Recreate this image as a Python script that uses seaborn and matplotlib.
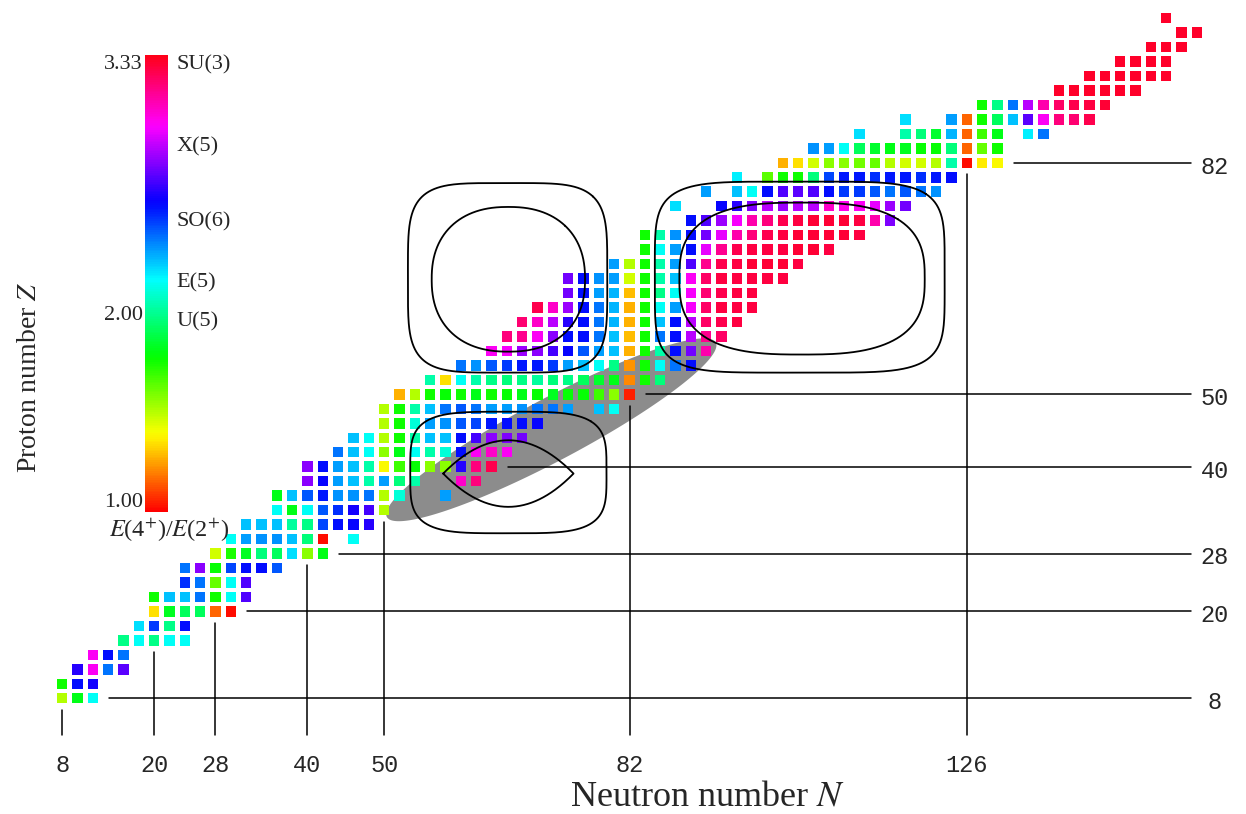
import numpy as np
import pandas as pd
import seaborn as sns
import matplotlib.pyplot as plt
from matplotlib import cm, colors

# E(4+)/E(2+) of even-even nuclei, one row per proton number Z.
# A row starts at neutron number first_n and steps by 2 neutrons; None = no value
proton_z = [8, 10, 12, 14, 16, 18, 20, 22, 24, 26, 28, 30, 32, 34, 36, 38, 40, 42,
            44, 46, 48, 50, 52, 54, 56, 58, 60, 62, 64, 66, 68, 70, 72, 74, 76, 78,
            80, 82, 84, 86, 88, 90, 92, 94, 96, 98, 100, 102]
first_n = [8, 8, 10, 12, 16, 18, 20, 20, 24, 24, 28, 30, 32, 36, 36, 40, 40, 44,
           46, 50, 50, 52, 56, 60, 64, 66, 68, 70, 74, 74, 80, 84, 84, 90, 88, 92,
           96, 102, 106, 112, 118, 128, 138, 142, 146, 150, 154, 152]
ratio_rows = [
    [1.51, 1.82, 2.17],
    [1.77, 2.56, 2.61],
    [2.63, 2.98, 2.40, 2.72],
    [2.98, 2.56, 2.40],
    [2.00, 2.17, 2.00, 2.17, 2.17],
    [2.23, 2.49, 2.00, 2.56],
    [1.35, 1.84, 1.93, 1.93, 1.16, 1.02],
    [1.77, 2.28, 2.28, 2.40, 1.77, 2.17, 2.70],
    [2.51, 2.40, 1.63, 2.17, 2.70],
    [2.40, 2.79, 1.79, 2.47, 2.56, 2.56, 2.44],
    [1.47, 1.75, 1.84, 1.98, 1.93, 2.23, 1.58, 1.82],
    [2.17, 2.33, 2.35, 2.35, 2.28, 1.98, 1.02, None, 2.17],
    [2.28, 2.28, 2.28, 2.03, 2.00, 2.47, 2.56, 2.58, 2.63],
    [2.17, 1.82, 2.17, 2.44, 2.51, 2.61, 2.68, 1.51],
    [1.82, 2.28, 2.44, 2.54, 2.35, 2.35, 2.40, 1.51, 2.12, None, None, 2.33],
    [2.79, 2.58, 2.33, 2.28, 2.05, 2.33, 1.98, 2.05, None, None, 3.05, 3.17],
    [2.79, 2.56, 2.33, 2.28, 2.05, 1.40, 1.70, 1.79, 1.58, 1.58, 2.63, 3.17, 3.24],
    [2.40, 2.28, 2.17, 1.58, 1.82, 2.17, 2.05, 2.12, 2.56, 2.98, 3.05, 2.98],
    [2.28, 2.17, 1.51, 1.77, 2.05, 2.28, 2.28, 2.56, 2.68, 2.79, 2.77, 2.75],
    [1.51, 1.77, 2.12, 2.33, 2.35, 2.44, 2.47, 2.54, 2.56, 2.56, 2.58],
    [1.51, 1.77, 2.05, 2.28, 2.40, 2.44, 2.40, 2.33, 2.33, 2.35, 2.40, 2.40, 2.33, None, 2.28, 2.17],
    [1.28, 1.51, 1.77, 1.79, 1.77, 1.82, 1.77, 1.79, 1.82, 1.79, 1.84, 1.79, 1.79, 1.70, 1.58, 1.05],
    [2.05, 1.35, 2.17, 2.05, 2.00, 1.98, 2.00, 2.03, 1.98, 2.00, 1.93, 1.86, 1.82, 1.21, 1.77, 1.98],
    [2.40, 2.35, 2.44, 2.49, 2.54, 2.54, 2.49, 2.33, 2.28, 2.17, 2.00, 1.23, 1.77, 2.17, 2.40, 2.56],
    [2.98, 2.96, 2.82, 2.79, 2.68, 2.58, 2.44, 2.33, 2.28, 1.28, 1.77, 2.05, 2.56, 2.75, 3.10],
    [3.17, 3.14, 2.98, 2.79, 2.56, 2.56, 2.40, 2.28, 1.30, 1.77, 2.40, 2.56, 2.86, 3.14, 3.21],
    [3.19, 3.05, 2.86, 2.63, 2.56, 2.40, 2.30, 1.28, 1.77, 2.28, 2.56, 2.86, 3.21, 3.24, 3.26],
    [3.24, 3.05, 2.82, 2.56, 2.40, 2.30, 1.28, 1.77, 2.17, 2.33, 2.96, 3.21, 3.26, 3.26, 3.26],
    [2.75, 2.56, 2.33, 2.30, 1.30, 1.77, 2.00, 2.17, 2.96, 3.19, 3.24, 3.26, 3.26],
    [2.75, 2.56, 2.35, 2.33, 1.47, 1.77, 2.05, 2.28, 2.98, 3.21, 3.26, 3.26, 3.26, 3.26, 3.26],
    [2.33, 1.51, 1.77, 2.05, 2.33, 2.70, 3.14, 3.24, 3.26, 3.28, 3.28, 3.28, 3.26],
    [1.77, 2.17, 2.33, 2.56, 2.93, 3.14, 3.24, 3.26, 3.26, 3.26, 3.28, 3.28, 3.26],
    [1.77, 2.05, 2.35, 2.56, 2.75, 2.93, 3.10, 3.17, 3.24, 3.26, 3.28, 3.28, 3.28, 3.28, 3.26],
    [2.56, 2.70, 2.82, 2.96, 3.10, 3.17, 3.24, 3.26, 3.28, 3.28, 3.28, 3.26, 3.10, 2.77],
    [2.23, None, None, 2.58, 2.63, 2.77, 2.86, 2.82, 2.86, 2.86, 3.05, 3.00, 2.98, 2.93, 2.82, 2.75],
    [2.33, None, 2.28, 2.17, 2.56, 2.70, 2.72, 2.70, 2.56, 2.49, 2.49, 2.44, 2.40, 2.44, 2.40, 2.35],
    [2.21, None, 1.65, 1.77, 1.77, 1.98, 2.47, 2.54, 2.54, 2.51, 2.54, 2.54, 2.51, 2.54, 2.56],
    [1.28, 1.35, 1.47, 1.58, 1.58, 1.61, 1.63, 1.51, 1.47, 1.47, 1.51, 2.05, 1.02, 1.37, 1.40],
    [2.35, 2.33, 2.17, 1.93, 1.86, 1.82, 1.84, 1.79, 1.79, 1.98, 1.16, 1.63, 1.77],
    [2.23, None, None, 2.05, 1.98, 1.86, 2.30, 1.16, 1.70, 1.82, None, 2.21, 2.40],
    [2.23, None, None, 2.33, 1.16, 1.77, 1.93, 2.28, 2.72, 2.98, 3.17, 3.19, 3.24],
    [1.77, 2.00, 2.40, 2.86, 3.10, 3.21, 3.24, 3.26, 3.28],
    [3.30, 3.30, 3.30, 3.30, 3.30, 3.30],
    [3.30, 3.30, 3.30, 3.30, 3.30, 3.30],
    [3.30, 3.30, 3.30, 3.30],
    [3.30, 3.30, 3.30],
    [3.30, 3.30],
    [3.30],
]

magic_z = [8, 20, 28, 40, 50, 82]
magic_n = [8, 20, 28, 40, 50, 82, 126]

# symmetry limits shown next to the colour bar
limit_names = ['SU(3)', 'X(5)', 'SO(6)', 'E(5)', 'U(5)']
limit_pos = [3.28, 2.86, 2.48, 2.17, 1.97]


def superellipse(cn, cz, an, az, p, k=600):
    t = np.linspace(0.25 * np.pi, 2.25 * np.pi, k)
    c, s = np.cos(t), np.sin(t)
    return (cn + an * np.sign(c) * np.abs(c) ** (2 / p),
            cz + az * np.sign(s) * np.abs(s) ** (2 / p))


def lens(cn, cz, an, az, k=200):
    u = np.linspace(-1, 1, k)
    h = az * (1 - u ** 2)
    x = np.concatenate([cn + an * u, cn + an * u[::-1]])
    y = np.concatenate([cz + h, cz - h[::-1]])
    return x, y


recs = []
for z, n0, row in zip(proton_z, first_n, ratio_rows):
    for i, r in enumerate(row):
        if r is not None:
            recs.append((n0 + 2 * i, z, r))
df = pd.DataFrame(recs, columns=['N', 'Z', 'R'])

sns.set_style('white')
plt.rcParams['font.family'] = ['Liberation Serif', 'DejaVu Serif']
plt.rcParams['mathtext.fontset'] = 'stix'

fig = plt.figure(figsize=(12.46, 8.14), dpi=100)
ax = fig.add_axes([0, 0, 1, 1])
ax.set_xlim(-0.1, 162.4)
ax.set_ylim(-8.0, 104.5)
ax.axis('off')

# grey band under the squares
t = np.linspace(0, 2 * np.pi, 300)
gx = 71.8 + 21.45 * np.cos(t) - 1.9 * np.sin(t)
gy = 45.1 + 12.05 * np.cos(t) + 3.8 * np.sin(t)
ax.fill(gx, gy, color='#8c8c8c', lw=0, zorder=1)

sns.scatterplot(data=df, x='N', y='Z', hue='R', palette='hsv', hue_norm=(1.0, 3.33),
                marker='s', s=57, linewidth=0, legend=False, ax=ax, zorder=2)

# contour outlines
for shape in [superellipse(66.1, 66.1, 13.0, 13.1, 4.5),
              superellipse(66.2, 65.9, 10.0, 10.0, 2.3),
              superellipse(104.2, 66.2, 18.9, 13.2, 5.0),
              superellipse(104.5, 66.0, 16.0, 10.5, 2.8),
              superellipse(66.2, 39.2, 12.8, 8.4, 4.0),
              lens(66.2, 39.05, 8.5, 4.6)]:
    ax.plot(shape[0], shape[1], color='black', lw=1.3, zorder=3)

# magic number lines and labels
mono = 'Liberation Mono'
for m in magic_n:
    zmin = df.loc[df.N == m, 'Z'].min()
    ax.plot([m, m], [2.9, zmin - 1.6], color='black', lw=1.1, zorder=3)
    ax.text(m, -1.3, str(m), ha='center', va='center', family=mono, fontsize=17)
for m in magic_z:
    nmax = df.loc[df.Z == m, 'N'].max()
    ax.plot([nmax + 2.1, 155.2], [m, m], color='black', lw=1.1, zorder=3)
    ax.text(158.3, m - 0.6, str(m), ha='center', va='center', family=mono, fontsize=17)

fig.text(708 / 1246, 1 - 797 / 814, 'Neutron number $N$', ha='center', va='center', fontsize=26)
fig.text(30 / 1246, 1 - 377 / 814, 'Proton number $Z$', ha='center', va='center',
         rotation=90, fontsize=20)

# colour bar
cax = fig.add_axes([145 / 1246, 302 / 814, 23 / 1246, 457 / 814])
cb = fig.colorbar(cm.ScalarMappable(norm=colors.Normalize(1.0, 3.33), cmap='hsv'), cax=cax)
cb.outline.set_visible(False)
cb.set_ticks([])
ytr = cax.get_yaxis_transform()
for v, s in zip(limit_pos, limit_names):
    cax.text(1.35, v, s, transform=ytr, ha='left', va='center', fontsize=16)
cax.text(-0.1, 3.33, '3.33', transform=ytr, ha='right', va='top', fontsize=16)
cax.text(-0.1, 2.00, '2.00', transform=ytr, ha='right', va='center', fontsize=16)
cax.text(-0.1, 1.00, '1.00', transform=ytr, ha='right', va='bottom', fontsize=16)
cax.text(1.04, -0.04, '$E$(4$^{+}$)/$E$(2$^{+}$)', transform=cax.transAxes,
         ha='center', va='center', fontsize=17.5)

fig.savefig('out.png', dpi=100)
